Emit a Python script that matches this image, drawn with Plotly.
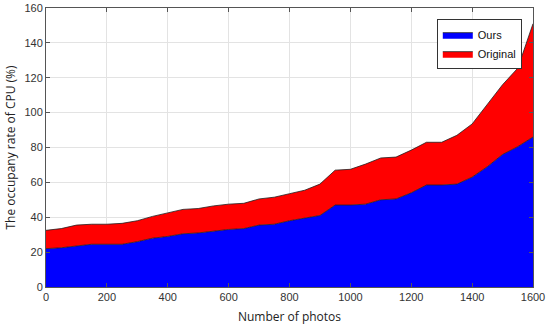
import plotly.graph_objects as go

# CPU occupancy vs number of photos
photos = list(range(0, 1601, 50))
ours = [22, 22.5, 23.5, 24.5, 24.5, 24.5, 26, 28, 29, 30.5, 31, 32, 33, 33.5, 35.5, 36,
        38, 39.5, 41, 47, 47, 47.5, 50, 50.5, 54, 58.5, 58.5, 59, 63, 69, 76, 80.5, 86]
original = [32.5, 33.5, 35.5, 36, 36, 36.5, 38, 40.5, 42.5, 44.5, 45, 46.5, 47.5, 48, 50.5, 51.5,
            53.5, 55.5, 59, 67, 67.5, 70.5, 74, 74.5, 78.5, 83, 83, 87, 93.5, 105, 116, 125.5, 151]

x_ticks = list(range(0, 1601, 200))
y_ticks = list(range(0, 161, 20))

fig = go.Figure()
fig.add_trace(go.Scatter(
    x=photos, y=ours, name="Ours", mode="lines",
    line=dict(color="#202020", width=0.8),
    fill="tozeroy", fillcolor="#0000ff",
))
fig.add_trace(go.Scatter(
    x=photos, y=original, name="Original", mode="lines",
    line=dict(color="#202020", width=0.8),
    fill="tonexty", fillcolor="#ff0000",
))

axis_common = dict(
    showgrid=True, gridcolor="#e3e3e3", gridwidth=1,
    showline=True, linecolor="#555555", linewidth=1, mirror="ticks",
    ticks="inside", ticklen=4, tickcolor="#555555",
    tickfont=dict(family="Liberation Sans, Arial", size=11, color="#333333"),
    zeroline=False, automargin=False,
)

fig.update_xaxes(
    range=[0, 1600], tickvals=x_ticks,
    title=dict(text="Number of photos", font=dict(family="Open Sans, Arial", size=12, color="#222222"),
               standoff=10),
    **axis_common,
)
fig.update_yaxes(
    range=[0, 160], tickvals=y_ticks,
    title=dict(text="The occupany rate of CPU (%)", font=dict(family="Open Sans, Arial", size=12, color="#222222"),
               standoff=6),
    **axis_common,
)

fig.update_layout(
    width=550, height=330,
    margin=dict(l=46, r=17, t=8, b=43),
    plot_bgcolor="white", paper_bgcolor="white",
    legend=dict(
        x=0.977, y=0.96, xanchor="right", yanchor="top",
        bgcolor="white", bordercolor="#333333", borderwidth=1,
        font=dict(family="Liberation Sans, Arial", size=11, color="#111111"),
        traceorder="normal", tracegroupgap=0, itemwidth=30,
    ),
    showlegend=True,
)

# page body has a default 8px margin; drop it so the figure sits at the corner
fig.write_html("out.html", config={"displayModeBar": False},
               post_script="document.body.style.margin='0';")
